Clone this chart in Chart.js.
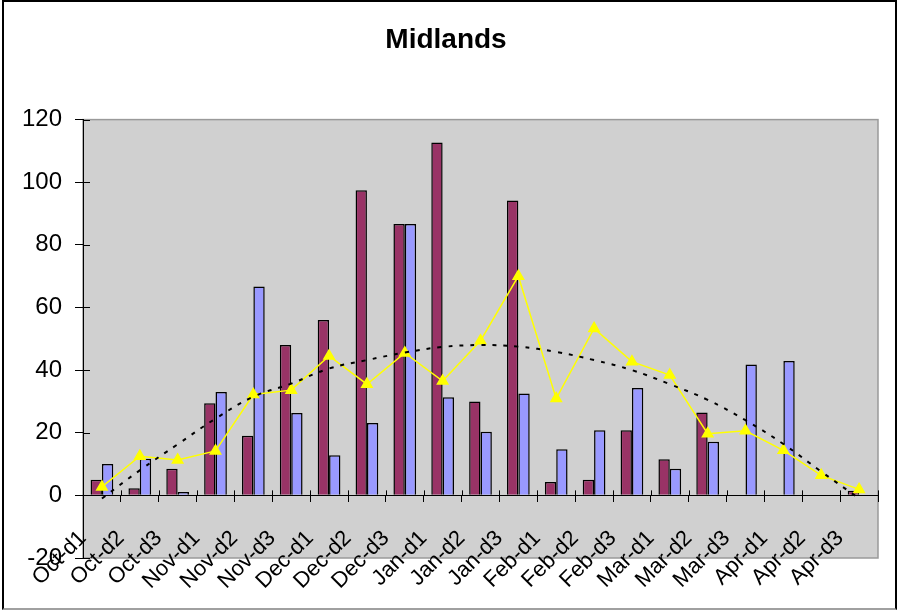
<!DOCTYPE html>
<html>
<head>
<meta charset="utf-8">
<title>Midlands</title>
<script src="https://cdn.jsdelivr.net/npm/chart.js@4"></script>
<style>
  html, body { margin: 0; padding: 0; background: #fff; }
  #wrap { position: relative; width: 898px; height: 612px; }
  #frame { position: absolute; left: 2px; top: 0; width: 891px; height: 606px;
           border: 2px solid #000; border-bottom-color: #a0a0a0; pointer-events: none; }
</style>
</head>
<body>
<div id="wrap">
  <canvas id="midlandsChart" width="898" height="612"></canvas>
  <div id="frame"></div>
</div>
<script>
const categories = ["Oct-d1", "Oct-d2", "Oct-d3", "Nov-d1", "Nov-d2", "Nov-d3",
    "Dec-d1", "Dec-d2", "Dec-d3", "Jan-d1", "Jan-d2", "Jan-d3",
    "Feb-d1", "Feb-d2", "Feb-d3", "Mar-d1", "Mar-d2", "Mar-d3",
    "Apr-d1", "Apr-d2", "Apr-d3"];
const maroonValues = [5, 2.3, 8.5, 29.4, 19, 48, 56, 97.4, 86.7, 112.7, 30, 94.2,
    4.3, 5, 20.8, 11.5, 26.5, null, null, null, 1.5];
const blueValues = [10, 11.7, 1.1, 33, 66.7, 26.3, 12.8, 23.1, 86.7, 31.3, 20.3, 32.5,
    14.7, 20.8, 34.3, 8.5, 17.1, 41.8, 42.9, null, null];
const yellowValues = [2.7, 12.5, 11.3, 14.2, 32.2, 33.6, 44.5, 35.5, 45.5, 36.5, 49.4, 70,
    30.9, 53.3, 42.7, 38.4, 19.7, 20.6, 14.4, 6.4, 1.9];
const trendValues = [-1, 8, 16.3, 24.5, 31.5, 35.7, 40.5, 43.2, 45.6, 47.4, 48, 47.5,
    45.8, 43.2, 40, 35.5, 30.5, 24, 16.4, 7.6, -1];
const yTicks = [-20, 0, 20, 40, 60, 80, 100, 120];

const FONT = "'Liberation Sans', Arial, sans-serif";

// grey plot area with a thin grey frame
const plotArea = {
    id: "plotArea",
    beforeDraw(chart) {
        const { ctx, chartArea: a } = chart;
        ctx.save();
        ctx.fillStyle = "#d0d0d0";
        ctx.fillRect(a.left, a.top, a.right - a.left, a.bottom - a.top);
        ctx.strokeStyle = "#9a9a9a";
        ctx.lineWidth = 1.5;
        ctx.strokeRect(a.left, a.top, a.right - a.left, a.bottom - a.top);
        ctx.restore();
    },
};

// inner half of the tick marks, so they cross the axis lines like in Excel
const crossTicks = {
    id: "crossTicks",
    beforeDatasetsDraw(chart) {
        const { ctx, scales: { x, y } } = chart;
        const zeroY = y.getPixelForValue(0);
        ctx.save();
        ctx.strokeStyle = "#000";
        ctx.lineWidth = 1;
        ctx.beginPath();
        for (let i = 0; i <= categories.length; i++) {
            const px = Math.round(x.getPixelForValue(i - 0.5)) + 0.5;
            ctx.moveTo(px, zeroY - 5);
            ctx.lineTo(px, zeroY);
        }
        yTicks.forEach(function (v) {
            const py = Math.round(y.getPixelForValue(v)) + 0.5;
            ctx.moveTo(y.right, py);
            ctx.lineTo(y.right + 7, py);
        });
        ctx.stroke();
        ctx.restore();
    },
};

const midlandsChart = new Chart(document.getElementById("midlandsChart"), {
    type: "bar",
    data: {
        labels: categories,
        datasets: [
            {
                type: "line",
                data: trendValues,
                borderColor: "#000",
                borderWidth: 2,
                borderDash: [4, 7],
                tension: 0.4,
                pointRadius: 0,
                order: 1,
            },
            {
                type: "line",
                data: yellowValues,
                borderColor: "#ffff00",
                borderWidth: 1.5,
                pointStyle: "triangle",
                pointRadius: 6,
                pointBackgroundColor: "#ffff00",
                pointBorderColor: "#ffff00",
                tension: 0,
                order: 2,
            },
            {
                data: maroonValues,
                backgroundColor: "#993366",
                borderColor: "#000",
                borderWidth: 1.5,
                categoryPercentage: 0.6,
                barPercentage: 1,
                order: 3,
            },
            {
                data: blueValues,
                backgroundColor: "#9999ff",
                borderColor: "#000",
                borderWidth: 1.5,
                categoryPercentage: 0.6,
                barPercentage: 1,
                order: 3,
            },
        ],
    },
    options: {
        responsive: false,
        animation: false,
        layout: { padding: { left: 14, right: 20, top: 0, bottom: 54 } },
        plugins: {
            legend: { display: false },
            tooltip: { enabled: false },
            title: {
                display: true,
                text: "Midlands",
                color: "#000",
                font: { family: FONT, size: 28, weight: "bold" },
                padding: { top: 23, bottom: 63 },
            },
        },
        scales: {
            x: {
                position: { y: 0 },
                offset: true,
                afterFit(scale) { scale.paddingLeft = 0; scale.paddingRight = 0; },
                grid: { drawOnChartArea: false, offset: true, tickLength: 6, color: "#000" },
                border: { display: true, color: "#000", width: 1 },
                ticks: {
                    autoSkip: false,
                    minRotation: 45,
                    maxRotation: 45,
                    padding: 24,
                    labelOffset: -19,
                    color: "#000",
                    font: { family: FONT, size: 22 },
                },
            },
            y: {
                min: yTicks[0],
                max: yTicks[yTicks.length - 1],
                afterFit(scale) { scale.width = 69; },
                grid: { drawOnChartArea: false, tickLength: 8, color: "#000" },
                border: { display: true, color: "#000", width: 1 },
                ticks: {
                    stepSize: 20,
                    padding: 13,
                    color: "#000",
                    font: { family: FONT, size: 24 },
                },
            },
        },
    },
    plugins: [plotArea, crossTicks],
});
</script>
</body>
</html>
